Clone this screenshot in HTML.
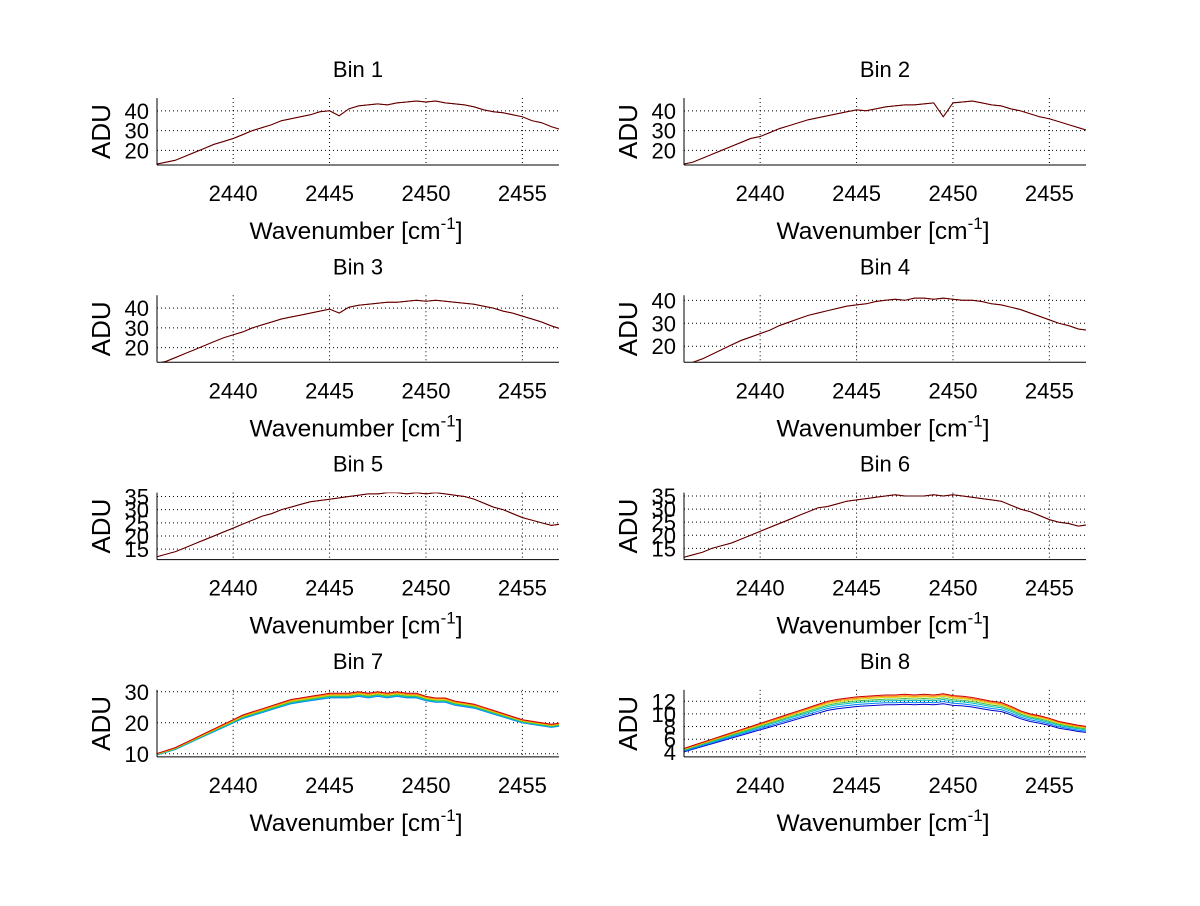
<!DOCTYPE html>
<html><head><meta charset="utf-8"><style>
body{margin:0;background:#fff}
svg text{font-family:"Liberation Sans",sans-serif;fill:#000}
</style></head><body>
<svg id="fig" width="1200" height="901" xmlns="http://www.w3.org/2000/svg"></svg>
<script>
const binTitles=["Bin 1","Bin 2","Bin 3","Bin 4","Bin 5","Bin 6","Bin 7","Bin 8"];
const xTicks=[2440,2445,2450,2455];
const xStart=2436, xEnd=2457;
const bin1=[13,14,15,17,19,21,23,24.5,26,28,30,31.5,33,35,36,37,38,39.5,40,37.5,41,42.5,43,43.5,43,44,44.5,45,44.5,45,44,43.5,43,42,40.5,39.5,39,38,37,35,34,32,30.5];
const bin2=[13,14,16,18,20,22,24,26,27,29,31,32.5,34,35.5,36.5,37.5,38.5,39.5,40.5,40,41,42,42.5,43,43,43.5,44,37,44,44.5,45,44,43,42.5,41,40,38.5,37,36,34.5,33,31.5,30];
const bin3=[12,13,15,17,19,21,23,25,26.5,28,30,31.5,33,34.5,35.5,36.5,37.5,38.5,39.5,37.5,40.5,41.5,42,42.5,43,43,43.5,44,43.5,44,43.5,43,42.5,42,41,40,38.5,37.5,36,34.5,33,31,29.5];
const bin4=[12,13,14.5,16.5,18.5,20.5,22.5,24,25.5,27,29,30.5,32,33.5,34.5,35.5,36.5,37.5,38,38.5,39.5,40,40.5,40,41,41,40.5,41,40.5,40,40,39.5,38.5,38,37,36,34.5,33,31.5,30,29,27.5,27];
const bin5=[12,13,14,15.5,17,18.5,20,21.5,23,24.5,26,27.5,28.5,30,31,32,33,33.5,34,34.5,35,35.5,36,36,36.5,36.5,36,36.5,36,36.5,36,35.5,35,34,32.5,31,30,28.5,27,26,25,24,24.5];
const bin6=[11.5,12.5,13.5,15,16,17,18.5,20,21.5,23,24.5,26,27.5,29,30.5,31,32,33,33.5,34,34.5,35,35.5,35,35,35,35.5,35,35.5,35,34.5,34,33.5,33,31.5,30,29,27.5,26,25,24.5,23.5,24];
const bin7=[10,11,12,13.5,15,16.5,18,19.5,21,22.5,23.5,24.5,25.5,26.5,27.5,28,28.5,29,29.5,29.5,29.5,30,29.5,30,29.5,30,29.5,29.5,28.5,28,28,27,26.5,26,25,24,23,22,21,20.5,20,19.5,20];
const bin8=[4.5,5,5.5,6,6.5,7,7.5,8,8.5,9,9.5,10,10.5,11,11.5,12,12.3,12.5,12.7,12.8,12.9,13,13,13.1,13,13.1,13,13.2,12.9,12.8,12.6,12.3,12,11.8,11.2,10.5,10,9.7,9.3,8.8,8.5,8.2,8];
const binData=[bin1,bin2,bin3,bin4,bin5,bin6,bin7,bin8];
const yLims=[[12.6,46.5],[12.6,46.5],[12.6,46.5],[13,42.2],[11,36.5],[10.7,36.3],[9,30.6],[3.2,13.8]];
const yTicks=[[20,30,40],[20,30,40],[20,30,40],[20,30,40],[15,20,25,30,35],[15,20,25,30,35],[10,20,30],[4,6,8,10,12]];
const scales7=[0.95,0.96,0.97,0.98,0.99,1.0];
const scales8=[0.88,0.905,0.93,0.95,0.97,0.985,1.0];
const jet=["#0000cc","#0080ff","#00c0c0","#40c040","#e0d000","#ff8000","#cc0000"];
const NS="http://www.w3.org/2000/svg";
const svg=document.getElementById('fig');
function mk(t,a,p){const e=document.createElementNS(NS,t);for(const k in a)e.setAttribute(k,a[k]);(p||svg).appendChild(e);return e;}
binData.forEach((d,b)=>{
  const col=b%2,row=Math.floor(b/2);
  const L=col?684:157,R=col?1086:559,T=98+row*197.3,B=T+67;
  const [y0,y1]=yLims[b];
  const sx=v=>L+(v-2436.05)/(2456.9-2436.05)*(R-L);
  const sy=v=>B-(v-y0)/(y1-y0)*(B-T);
  const g=mk('g',{});
  
  
  const cp=mk('clipPath',{id:'c'+b},g);
  mk('rect',{x:L,y:T,width:R-L,height:B-T},cp);
  xTicks.forEach(v=>{const l=mk('line',{x1:sx(v),x2:sx(v),y1:T,y2:B,stroke:'#000','stroke-width':1,'stroke-dasharray':'1 3'},g);});
  yTicks[b].forEach(v=>{const l=mk('line',{x1:L,x2:R,y1:sy(v),y2:sy(v),stroke:'#000','stroke-width':1,'stroke-dasharray':'1 3'},g);});
  const step=(xEnd-xStart)/(d.length-1);
  const path=(sc)=>d.map((v,i)=>(i?'L':'M')+sx(xStart+i*step).toFixed(1)+' '+sy(v*sc).toFixed(1)).join('');
  let scales,cols;
  if(b===6){scales=scales7;cols=jet.slice(1);}else if(b===7){scales=scales8;cols=jet;}else{scales=[1,1];cols=['#ff0000','#500000'];}
  scales.forEach((s,k)=>{const p=mk('path',{d:path(s),fill:'none',stroke:cols[k],'stroke-width':1,'clip-path':'url(#c'+b+')'},g);});
  mk('line',{x1:L,x2:L,y1:T,y2:B,stroke:'#000'},g);
  mk('line',{x1:L,x2:R,y1:B,y2:B,stroke:'#000'},g);
  xTicks.forEach(v=>{const t=mk('text',{x:sx(v),y:B+36,'font-size':22,'text-anchor':'middle'},g);t.textContent=v;});
  yTicks[b].forEach(v=>{const t=mk('text',{x:L-8,y:sy(v)+8,'font-size':22,'text-anchor':'end'},g);t.textContent=v;});
  const ti=mk('text',{x:(L+R)/2,y:T-21,'font-size':22,'text-anchor':'middle'},g);ti.textContent=binTitles[b];
  
  
  const xl=mk('text',{x:(L+R)/2-2,y:B+74,'font-size':24.5,'text-anchor':'middle'},g);
  xl.innerHTML='Wavenumber [cm<tspan dy="-10" font-size="17">-1</tspan><tspan dy="10">]</tspan>';
  
  
  const yl=mk('text',{x:0,y:0,'font-size':26,'text-anchor':'middle',transform:'translate('+(L-47)+','+((T+B)/2)+') rotate(-90)'},g);yl.textContent='ADU';
  
  
});
</script>
</body></html>
